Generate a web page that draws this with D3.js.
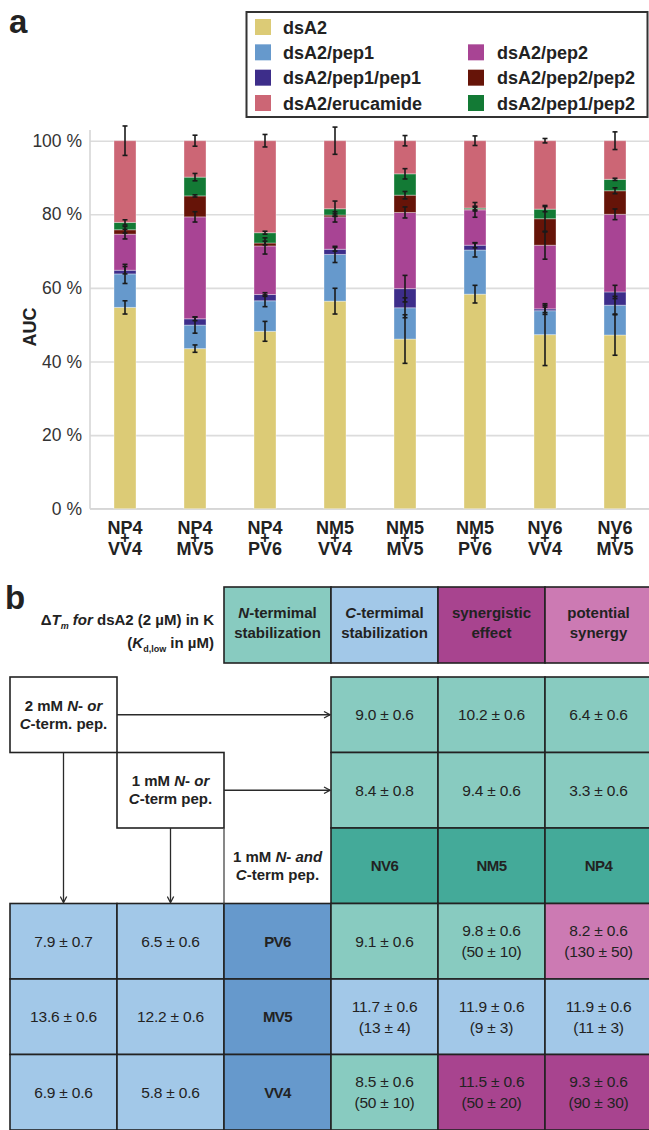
<!DOCTYPE html>
<html><head><meta charset="utf-8">
<script src="https://cdn.jsdelivr.net/npm/d3@7"></script>
<style>
body{margin:0;background:#fff}
svg{display:block;font-family:"Liberation Sans",Arial,Helvetica,sans-serif;}
</style>
</head><body>
<svg id="c" width="649" height="1130"></svg>
<script>
// ---------- DATA (panel a) ----------
const categories = ["NP4+VV4","NP4+MV5","NP4+PV6","NM5+VV4","NM5+MV5","NM5+PV6","NV6+VV4","NV6+MV5"];
const seriesNames = ["dsA2","dsA2/pep1","dsA2/pep1/pep1","dsA2/pep2","dsA2/pep2/pep2","dsA2/pep1/pep2","dsA2/erucamide"];
const dsA2          = [54.7, 43.5, 48.2, 56.4, 46.1, 58.3, 47.3, 47.2];
const dsA2_pep1     = [9.1, 6.4, 8.3, 12.7, 8.5, 12.0, 6.5, 8.1];
const dsA2_pep1pep1 = [1.0, 1.7, 1.7, 1.4, 5.2, 1.3, 0.5, 3.6];
const dsA2_pep2     = [9.8, 27.7, 13.2, 8.8, 20.7, 9.6, 17.3, 21.1];
const dsA2_pep2pep2 = [1.2, 5.7, 0.8, 0.5, 4.7, 0.2, 7.2, 6.4];
const dsA2_pep1pep2 = [2.0, 5.1, 2.8, 1.7, 5.8, 0.3, 2.6, 3.1];
const dsA2_eruc     = [22.2, 9.9, 25.0, 18.5, 9.0, 18.3, 18.6, 10.5];
const err_dsA2          = [1.8, 1.0, 2.7, 3.5, 6.6, 2.4, 8.4, 5.5];
const err_dsA2_pep1     = [2.6, 2.2, 1.6, 2.2, 2.7, 1.9, 1.0, 2.4];
const err_dsA2_pep1pep1 = [1.0, 0.5, 0.5, 0.5, 3.6, 0.7, 1.0, 1.8];
const err_dsA2_pep2     = [1.3, 1.4, 2.2, 1.4, 1.5, 2.0, 3.8, 1.45];
const err_dsA2_pep2pep2 = [0.9, 0.3, 0.5, 0.3, 1.0, 0.5, 3.6, 0.8];
const err_dsA2_pep1pep2 = [0.7, 1.0, 0.4, 2.1, 1.4, 0.5, 0.7, 0.3];
const err_dsA2_eruc     = [4.0, 1.5, 1.7, 3.7, 1.4, 1.3, 0.6, 2.4];
const yTicks = [0, 20, 40, 60, 80, 100];
const legendCol1 = ["dsA2","dsA2/pep1","dsA2/pep1/pep1","dsA2/erucamide"];
const legendCol2 = ["dsA2/pep2","dsA2/pep2/pep2","dsA2/pep1/pep2"];

// ---------- DATA (panel b) ----------
const tableHeaders = [[["N",1],["-termimal",0]],[["C",1],["-termimal",0]],[["synergistic",0]],[["potential",0]]];
const tableHeaders2 = ["stabilization","stabilization","effect","synergy"];
const nTermPeptides = ["NV6","NM5","NP4"];
const cTermPeptides = ["PV6","MV5","VV4"];
const nTerm2mM = ["9.0 ± 0.6","10.2 ± 0.6","6.4 ± 0.6"];
const nTerm1mM = ["8.4 ± 0.8","9.4 ± 0.6","3.3 ± 0.6"];
const cTerm2mM = ["7.9 ± 0.7","13.6 ± 0.6","6.9 ± 0.6"];
const cTerm1mM = ["6.5 ± 0.6","12.2 ± 0.6","5.8 ± 0.6"];
const combinedTm = [["9.1 ± 0.6","9.8 ± 0.6","8.2 ± 0.6"],["11.7 ± 0.6","11.9 ± 0.6","11.9 ± 0.6"],["8.5 ± 0.6","11.5 ± 0.6","9.3 ± 0.6"]];
const combinedKd = [["","(50 ± 10)","(130 ± 50)"],["(13 ± 4)","(9 ± 3)","(11 ± 3)"],["(50 ± 10)","(50 ± 20)","(90 ± 30)"]];
const combinedClass = [[0,0,3],[1,1,1],[0,2,2]];

// ---------- STYLE ----------
const seriesColors = {"dsA2":"#dccb76","dsA2/pep1":"#6699cc","dsA2/pep1/pep1":"#3d2d8a","dsA2/pep2":"#a84494","dsA2/pep2/pep2":"#661408","dsA2/pep1/pep2":"#137a35","dsA2/erucamide":"#cc6675"};
const classColors = ["#88cbc0","#a2c8e8","#a8448f","#cc7ab3"];
const darkTeal = "#44aa99", midBlue = "#6699cc", ink = "#222";

const svg = d3.select("#c");

// ---------- PANEL A ----------
const values = [dsA2, dsA2_pep1, dsA2_pep1pep1, dsA2_pep2, dsA2_pep2pep2, dsA2_pep1pep2, dsA2_eruc];
const errors = [err_dsA2, err_dsA2_pep1, err_dsA2_pep1pep1, err_dsA2_pep2, err_dsA2_pep2pep2, err_dsA2_pep1pep2, err_dsA2_eruc];
const rows = categories.map((c, i) => {
  const r = {cat: c};
  seriesNames.forEach((s, k) => r[s] = values[k][i]);
  return r;
});
const x = d3.scaleBand().domain(categories).range([90, 650]).paddingInner(0.6857).paddingOuter(0.3429);
const y = d3.scaleLinear().domain([0, 100]).range([508.7, 140.7]);

svg.append("text").attr("x", 9).attr("y", 33).attr("font-size", 33).attr("font-weight", "bold").attr("fill", ink).text("a");

// grid
const grid = svg.append("g").attr("transform", "translate(90,0)")
  .call(d3.axisLeft(y).tickValues(yTicks).tickSize(-560).tickFormat(""));
grid.select(".domain").remove();
grid.selectAll("line").attr("stroke", "#dcdcdc").attr("stroke-width", 1.6);

// y axis
const ya = svg.append("g").attr("transform", "translate(90,0)")
  .call(d3.axisLeft(y).tickValues(yTicks).tickSize(0).tickPadding(8).tickFormat(d => d + " %"));
ya.select(".domain").remove();
ya.selectAll("text").attr("font-size", 17.5).attr("fill", "#333").attr("font-family", "Liberation Sans, Arial, sans-serif");
svg.append("line").attr("x1", 90).attr("x2", 90).attr("y1", 130).attr("y2", y(0)).attr("stroke", "#d6d6d6").attr("stroke-width", 1.6);
svg.append("line").attr("x1", 90).attr("x2", 649).attr("y1", y(0)).attr("y2", y(0)).attr("stroke", "#d6d6d6").attr("stroke-width", 1.6);

svg.append("text").attr("transform", "translate(36,327) rotate(-90)").attr("text-anchor", "middle")
  .attr("font-size", 18).attr("font-weight", "bold").attr("fill", ink).text("AUC");

// bars
const stack = d3.stack().keys(seriesNames)(rows);
const layers = svg.append("g").selectAll("g").data(stack).join("g").attr("fill", d => seriesColors[d.key]);
layers.selectAll("rect").data(d => d).join("rect")
  .attr("x", d => x(d.data.cat)).attr("width", x.bandwidth())
  .attr("y", d => y(d[1])).attr("height", d => y(d[0]) - y(d[1]))
  .attr("stroke", "#ffffff").attr("stroke-opacity", 0.35).attr("stroke-width", 1);

// error bars
const eb = svg.append("g").attr("stroke", "#1a1a1a").attr("stroke-width", 1.6);
stack.forEach((layer, k) => {
  layer.forEach((d, i) => {
    const cx = x(d.data.cat) + x.bandwidth() / 2;
    const e = errors[k][i];
    const y1 = y(d[1] + e), y2 = y(d[1] - e);
    eb.append("line").attr("x1", cx).attr("x2", cx).attr("y1", y1).attr("y2", y2);
    eb.append("line").attr("x1", cx - 2.5).attr("x2", cx + 2.5).attr("y1", y1).attr("y2", y1);
    eb.append("line").attr("x1", cx - 2.5).attr("x2", cx + 2.5).attr("y1", y2).attr("y2", y2);
  });
});

// x labels (one text element per category: line 1, "+", line 2)
const xl = svg.append("g").attr("font-size", 18).attr("font-weight", "bold").attr("fill", ink).attr("text-anchor", "middle");
categories.forEach(c => {
  const [a, b] = c.split("+");
  const cx = x(c) + x.bandwidth() / 2;
  const t = xl.append("text").attr("x", cx).attr("y", 533.5);
  t.append("tspan").attr("x", cx).attr("y", 533.5).text(a);
  t.append("tspan").attr("x", cx).attr("y", 543).attr("font-size", 16).text("+");
  t.append("tspan").attr("x", cx).attr("y", 555).text(b);
});

// legend
const lg = svg.append("g");
lg.append("rect").attr("x", 246.5).attr("y", 12).attr("width", 401).attr("height", 105).attr("fill", "#fff").attr("stroke", "#333").attr("stroke-width", 2);
const rowY = d3.scalePoint().domain(d3.range(4)).range([27, 103]);
legendCol1.forEach((s, i) => {
  lg.append("rect").attr("x", 255).attr("y", rowY(i) - 8).attr("width", 16).attr("height", 16).attr("fill", seriesColors[s]);
  lg.append("text").attr("x", 283).attr("y", rowY(i) + 6.5).attr("font-size", 18).attr("font-weight", "bold").attr("fill", ink).text(s);
});
legendCol2.forEach((s, i) => {
  lg.append("rect").attr("x", 468).attr("y", rowY(i + 1) - 8).attr("width", 16).attr("height", 16).attr("fill", seriesColors[s]);
  lg.append("text").attr("x", 497).attr("y", rowY(i + 1) + 6.5).attr("font-size", 18).attr("font-weight", "bold").attr("fill", ink).text(s);
});

// ---------- PANEL B ----------
svg.append("text").attr("x", 5).attr("y", 609).attr("font-size", 33).attr("font-weight", "bold").attr("fill", ink).text("b");

const col = d3.scaleBand().domain(d3.range(6)).range([10, 652]);
const row = d3.scaleBand().domain(d3.range(6)).range([677, 1130]);
const cw = col.bandwidth(), rh = row.bandwidth();
const hdrY = 587, hdrH = 76;
const fs = 15;

function richText(g, xPos, yPos, parts, opts) {
  const t = g.append("text").attr("x", xPos).attr("y", yPos).attr("text-anchor", opts.anchor || "middle")
    .attr("font-size", opts.size || fs).attr("font-weight", opts.weight || "normal").attr("fill", ink);
  parts.forEach(p => {
    const ts = t.append("tspan").text(p[0]);
    if (p[1]) ts.attr("font-style", "italic");
  });
  return t;
}

const tb = svg.append("g");
// header boxes
tableHeaders.forEach((h, i) => {
  tb.append("rect").attr("x", col(i + 2)).attr("y", hdrY).attr("width", cw).attr("height", hdrH)
    .attr("fill", classColors[i]).attr("stroke", ink).attr("stroke-width", 1.6);
  richText(tb, col(i + 2) + cw / 2, hdrY + hdrH / 2 - 7, h, {weight: "bold"});
  richText(tb, col(i + 2) + cw / 2, hdrY + hdrH / 2 + 13, [[tableHeaders2[i], 0]], {weight: "bold"});
});

// left header text
const lh1 = tb.append("text").attr("x", 214).attr("y", 625).attr("text-anchor", "end").attr("font-size", fs).attr("font-weight", "bold").attr("fill", ink);
lh1.append("tspan").text("Δ");
lh1.append("tspan").attr("font-style", "italic").text("T");
lh1.append("tspan").attr("font-style", "italic").attr("font-size", 9).attr("dy", 4).text("m");
lh1.append("tspan").attr("font-style", "italic").attr("dy", -4).text(" for ");
lh1.append("tspan").text("dsA2 (2 µM) in K");
const lh2 = tb.append("text").attr("x", 214).attr("y", 648).attr("text-anchor", "end").attr("font-size", fs).attr("font-weight", "bold").attr("fill", ink);
lh2.append("tspan").text("(");
lh2.append("tspan").attr("font-style", "italic").text("K");
lh2.append("tspan").attr("font-size", 9).attr("dy", 4).text("d,low");
lh2.append("tspan").attr("dy", -4).text(" in µM)");

function cell(c, r, fill, lines, bold) {
  tb.append("rect").attr("x", col(c)).attr("y", row(r)).attr("width", cw).attr("height", rh)
    .attr("fill", fill).attr("stroke", ink).attr("stroke-width", 1.6);
  const cx = col(c) + cw / 2, cy = row(r) + rh / 2;
  const ls = lines.filter(l => l !== "");
  ls.forEach((l, k) => {
    const off = (k - (ls.length - 1) / 2) * 21;
    tb.append("text").attr("x", cx).attr("y", cy + off + 5.5).attr("text-anchor", "middle")
      .attr("font-size", bold ? 15 : 15.5).attr("font-weight", bold ? "bold" : "normal").attr("fill", ink)
      .attr("letter-spacing", bold ? -0.6 : -0.2).text(l);
  });
}

// N-term rows
nTerm2mM.forEach((v, i) => cell(3 + i, 0, classColors[0], [v]));
nTerm1mM.forEach((v, i) => cell(3 + i, 1, classColors[0], [v]));
nTermPeptides.forEach((v, i) => cell(3 + i, 2, darkTeal, [v], true));
// C-term rows
cTermPeptides.forEach((p, j) => {
  cell(0, 3 + j, classColors[1], [cTerm2mM[j]]);
  cell(1, 3 + j, classColors[1], [cTerm1mM[j]]);
  cell(2, 3 + j, midBlue, [p], true);
  for (let i = 0; i < 3; i++) cell(3 + i, 3 + j, classColors[combinedClass[j][i]], [combinedTm[j][i], combinedKd[j][i]]);
});

// concentration boxes
const lineCol = "#2a2a2a";
tb.append("rect").attr("x", col(0)).attr("y", row(0)).attr("width", cw).attr("height", rh).attr("fill", "#fff").attr("stroke", ink).attr("stroke-width", 1.6);
tb.append("rect").attr("x", col(1)).attr("y", row(1)).attr("width", cw).attr("height", rh).attr("fill", "#fff").attr("stroke", ink).attr("stroke-width", 1.6);
tb.append("line").attr("x1", col(2)).attr("x2", col(2)).attr("y1", row(2)).attr("y2", row(3)).attr("stroke", "#555").attr("stroke-width", 1.4);

richText(tb, col(0) + cw / 2, row(0) + rh / 2 - 4, [["2 mM ",0],["N",1],["- ",0],["or",1]], {weight: "bold"});
richText(tb, col(0) + cw / 2, row(0) + rh / 2 + 14, [["C",1],["-term. pep.",0]], {weight: "bold"});
richText(tb, col(1) + cw / 2, row(1) + rh / 2 - 4, [["1 mM ",0],["N",1],["- ",0],["or",1]], {weight: "bold"});
richText(tb, col(1) + cw / 2, row(1) + rh / 2 + 14, [["C",1],["-term pep.",0]], {weight: "bold"});
richText(tb, col(2) + cw / 2, row(2) + rh / 2 - 4, [["1 mM ",0],["N",1],["- ",0],["and",1]], {weight: "bold"});
richText(tb, col(2) + cw / 2, row(2) + rh / 2 + 14, [["C",1],["-term pep.",0]], {weight: "bold"});

// arrows
const defs = svg.append("defs");
defs.append("marker").attr("id", "ah").attr("viewBox", "0 -4 8 8").attr("refX", 7).attr("refY", 0)
  .attr("markerWidth", 8).attr("markerHeight", 8).attr("markerUnits", "userSpaceOnUse").attr("orient", "auto")
  .append("path").attr("d", "M1,-3.2L7,0L1,3.2").attr("fill", "none").attr("stroke", lineCol).attr("stroke-width", 1.3);
const arrows = [
  [col(1), row(0) + rh / 2, col(3) - 1, row(0) + rh / 2],
  [col(2), row(1) + rh / 2, col(3) - 1, row(1) + rh / 2],
  [col(0) + cw / 2, row(1), col(0) + cw / 2, row(3) - 1],
  [col(1) + cw / 2, row(2), col(1) + cw / 2, row(3) - 1]
];
arrows.forEach(a => tb.append("line").attr("x1", a[0]).attr("y1", a[1]).attr("x2", a[2]).attr("y2", a[3])
  .attr("stroke", lineCol).attr("stroke-width", 1.3).attr("marker-end", "url(#ah)"));
</script>
</body></html>
